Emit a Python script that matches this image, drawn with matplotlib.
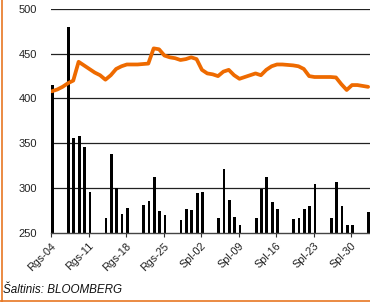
import matplotlib
matplotlib.use("Agg")
import matplotlib.pyplot as plt
from matplotlib.lines import Line2D

# Days counted from Rgs-04
bar_days = [0, 3, 4, 5, 6, 7, 10, 11, 12, 13, 14, 17, 18, 19, 20, 21,
            24, 25, 26, 27, 28, 31, 32, 33, 34, 35, 38, 39, 40, 41, 42,
            45, 46, 47, 48, 49, 52, 53, 54, 55, 56, 59]
bar_values = [415, 480, 356, 358, 346, 296, 266, 338, 300, 271, 278,
              281, 285, 312, 274, 270, 264, 277, 275, 294, 296,
              266, 321, 286, 267, 259, 266, 299, 312, 284, 276,
              265, 266, 277, 280, 304, 266, 307, 280, 259, 259, 273]

line_days = list(range(60))
line_values = [408, 410, 413, 417, 420, 441, 437, 433, 429, 426,
               421, 426, 433, 436, 438, 438, 438, 438.5, 439, 456,
               455, 448, 446, 445, 443, 444, 446, 444, 432, 428,
               427, 425, 430, 432, 426, 422, 424, 426, 428, 426,
               432, 436, 438, 438, 437.5, 437, 436, 433, 425, 424,
               424, 424, 424, 423.5, 416, 409.5, 415, 415, 414, 413]

tick_days = [0, 7, 14, 21, 28, 35, 42, 49, 56]
tick_labels = ["Rgs-04", "Rgs-11", "Rgs-18", "Rgs-25", "Spl-02",
               "Spl-09", "Spl-16", "Spl-23", "Spl-30"]
y_ticks = [250, 300, 350, 400, 450, 500]
source_text = "Šaltinis: BLOOMBERG"

plt.rcParams['font.family'] = ['Liberation Sans', 'DejaVu Sans']

fig = plt.figure(figsize=(3.70, 3.02), dpi=100)
ax = fig.add_axes([51 / 370, 69.3 / 302, 1 - 51 / 370, (293 - 69.3) / 302])

for y in y_ticks[1:]:
    ax.axhline(y, color='#222222', lw=0.9, zorder=1)

ax.bar(bar_days, bar_values, width=0.52, align='edge', color='black',
       zorder=2)
ax.plot([d + 0.15 for d in line_days], line_values, color='#EE6A00',
        lw=2.7, solid_joinstyle='round', solid_capstyle='round', zorder=3)

ax.set_ylim(250, 500)
ax.set_xlim(0, 59.5)
ax.set_yticks(y_ticks)
ax.set_yticklabels([str(v) for v in y_ticks], fontsize=8, color='#222222')
ax.tick_params(axis='y', length=0, pad=10)
ax.set_xticks(tick_days)
ax.set_xticklabels(tick_labels, rotation=45, ha='right', va='top',
                   rotation_mode='anchor', fontsize=7.8, color='#222222')
ax.tick_params(axis='x', length=3, width=0.8, color='#333333', pad=3)

for s in ['top', 'right', 'left']:
    ax.spines[s].set_visible(False)
ax.spines['bottom'].set_color('#444444')
ax.spines['bottom'].set_linewidth(1.0)
ax.set_facecolor('none')

fig.text(3 / 370, 1 - 290 / 302, source_text, fontsize=8.4, style='italic',
         ha='left', va='center', color='#111111')

border = '#E87722'
fig.add_artist(Line2D([1.5 / 370, 1.5 / 370], [0, 1], color=border, lw=1.2,
                      transform=fig.transFigure))
fig.add_artist(Line2D([0, 1], [1.5 / 302, 1.5 / 302], color=border, lw=1.2,
                      transform=fig.transFigure))

fig.savefig("out.png", dpi=100)
